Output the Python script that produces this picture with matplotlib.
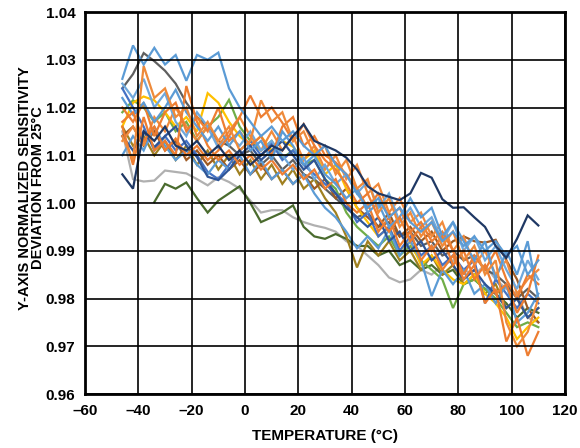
import numpy as np
import matplotlib
matplotlib.use("Agg")
import matplotlib.pyplot as plt

nan = np.nan
temps = [-46, -42, -38, -34, -30, -26, -22, -18, -14, -10, -6, -2, 2, 6, 10, 14, 18, 22, 26, 30,
         34, 38, 42, 46, 50, 54, 58, 62, 66, 70, 74, 78, 82, 86, 90, 94, 98, 102, 106, 110]

x_ticks = [-60, -40, -20, 0, 20, 40, 60, 80, 100, 120]
y_ticks = [0.96, 0.97, 0.98, 0.99, 1.00, 1.01, 1.02, 1.03, 1.04]
x_label = "TEMPERATURE (°C)"
y_label = "Y-AXIS NORMALIZED SENSITIVITY\nDEVIATION FROM 25°C"

gray_light = [1.015, 1.005, 1.0045, 1.0047, 1.0068, 1.0065, 1.0062, 1.005, 1.0037, 1.0054, 1.0044, 1.003, 1.0005, 0.998, 0.9985, 0.9985, 0.997, 0.996, 0.9953, 0.9948,
              0.994, 0.992, 0.991, 0.989, 0.987, 0.9844, 0.9834, 0.984, 0.986, 0.985, 0.987, 0.988, 0.986, 0.985, 0.987, 0.984, 0.982, 0.981, 0.976, 0.975]
olive_dark = [nan, nan, nan, 1.0002, 1.004, 1.003, 1.0043, 1.001, 0.998, 1.0005, 1.002, 1.0035, 1.000, 0.996, 0.997, 0.998, 0.9995, 0.995, 0.993, 0.9925,
              0.9935, 0.9925, 0.991, 0.991, 0.989, 0.990, 0.987, 0.988, 0.986, 0.987, 0.985, 0.986, 0.983, 0.984, 0.982, 0.981, 0.979, 0.976, 0.978, 0.977]
gray_dark = [1.024, 1.027, 1.0314, 1.0297, 1.0277, 1.025, 1.021, 1.018, 1.016, 1.013, 1.012, 1.010, 1.011, 1.008, 1.010, 1.007, 1.009, 1.006, 1.005, 1.003,
             1.001, 0.999, 0.997, 0.998, 0.995, 0.996, 0.993, 0.994, 0.991, 0.992, 0.989, 0.990, 0.988, 0.989, 0.986, 0.985, 0.983, 0.980, 0.982, 0.980]
blue_top = [1.026, 1.033, 1.029, 1.0325, 1.029, 1.031, 1.0256, 1.031, 1.030, 1.0315, 1.024, 1.020, 1.017, 1.014, 1.016, 1.013, 1.015, 1.012, 1.010, 1.012,
            1.008, 1.006, 1.002, 0.999, 1.001, 0.997, 0.999, 0.996, 0.994, 0.996, 0.992, 0.994, 0.991, 0.993, 0.990, 0.992, 0.989, 0.991, 0.985, 0.988]
orange_a = [1.014, 1.009, 1.0287, 1.022, 1.024, 1.018, 1.020, 1.014, 1.017, 1.013, 1.016, 1.011, 1.013, 1.0215, 1.017, 1.019, 1.013, 1.015, 1.010, 1.012,
            1.006, 1.009, 1.003, 1.005, 0.998, 1.001, 0.995, 0.998, 0.993, 0.996, 0.991, 0.994, 0.988, 0.991, 0.985, 0.988, 0.975, 0.970, 0.973, 0.980]
orange_b = [1.017, 1.019, 1.013, 1.016, 1.011, 1.0135, 1.010, 1.012, 1.009, 1.011, 1.014, 1.018, 1.0225, 1.018, 1.020, 1.0168, 1.013, 1.0165, 1.012, 1.009,
            1.007, 1.004, 1.000, 1.002, 0.997, 0.994, 0.997, 0.992, 0.995, 0.990, 0.993, 0.987, 0.990, 0.984, 0.987, 0.981, 0.983, 0.977, 0.981, 0.989]
orange_c = [1.016, 1.008, 1.018, 1.011, 1.013, 1.010, 1.0245, 1.017, 1.012, 1.009, 1.011, 1.008, 1.010, 1.007, 1.009, 1.006, 1.008, 1.005, 1.007, 1.003,
            1.005, 1.000, 0.998, 1.000, 0.994, 0.997, 0.991, 0.994, 0.988, 0.991, 0.986, 0.989, 0.984, 0.987, 0.979, 0.982, 0.971, 0.976, 0.968, 0.973]
orange_d = [1.020, 1.017, 1.021, 1.014, 1.019, 1.021, 1.015, 1.018, 1.015, 1.020, 1.013, 1.015, 1.012, 1.014, 1.010, 1.016, 1.018, 1.012, 1.014, 1.010,
            1.0085, 1.006, 1.003, 0.999, 1.002, 0.997, 0.999, 0.994, 0.996, 0.992, 0.994, 0.990, 0.985, 0.989, 0.986, 0.990, 0.984, 0.980, 0.985, 0.983]
orange_e = [1.013, 1.016, 1.012, 1.018, 1.015, 1.020, 1.016, 1.013, 1.016, 1.012, 1.015, 1.018, 1.014, 1.011, 1.015, 1.011, 1.014, 1.009, 1.012, 1.007,
            1.010, 1.005, 1.008, 1.002, 1.004, 0.998, 1.001, 0.996, 0.998, 0.993, 0.996, 0.990, 0.993, 0.987, 0.990, 0.985, 0.988, 0.981, 0.984, 0.986]
brown = [1.014, 1.016, 1.012, 1.015, 1.011, 1.013, 1.009, 1.011, 1.008, 1.010, 1.007, 1.009, 1.006, 1.008, 1.005, 1.007, 1.004, 1.006, 1.003, 1.005,
         1.001, 1.003, 0.999, 0.997, 0.995, 0.998, 0.993, 0.995, 0.992, 0.994, 0.990, 0.992, 0.993, 0.992, 0.9917, 0.9923, 0.988, 0.984, 0.978, 0.975]
goldenrod = [1.016, 1.012, 1.014, 1.010, 1.013, 1.009, 1.012, 1.008, 1.011, 1.007, 1.010, 1.006, 1.009, 1.005, 1.008, 1.004, 1.007, 1.003, 1.005, 1.001,
             0.998, 0.993, 0.9865, 0.992, 0.989, 0.992, 0.988, 0.990, 0.986, 0.989, 0.985, 0.987, 0.983, 0.985, 0.981, 0.983, 0.978, 0.980, 0.976, 0.978]
gold = [1.016, 1.021, 1.0223, 1.0215, 1.019, 1.016, 1.018, 1.015, 1.023, 1.021, 1.017, 1.014, 1.012, 1.014, 1.011, 1.013, 1.0118, 1.009, 1.011, 1.006,
        1.008, 1.003, 0.999, 0.996, 0.993, 0.995, 0.990, 0.992, 0.987, 0.989, 0.986, 0.984, 0.983, 0.985, 0.981, 0.979, 0.976, 0.9715, 0.974, 0.976]
green = [1.019, 1.0215, 1.020, 1.017, 1.019, 1.015, 1.017, 1.013, 1.016, 1.018, 1.0216, 1.016, 1.013, 1.011, 1.013, 1.0094, 1.011, 1.008, 1.009, 1.005,
         1.003, 0.998, 0.995, 0.993, 0.991, 0.993, 0.989, 0.991, 0.988, 0.986, 0.984, 0.978, 0.983, 0.984, 0.982, 0.980, 0.977, 0.974, 0.975, 0.974]
blue_mid = [1.024, 1.020, 1.016, 1.011, 1.014, 1.011, 1.013, 1.010, 1.0065, 1.005, 1.008, 1.011, 1.013, 1.010, 1.0125, 1.009, 1.011, 1.008, 1.006, 1.004,
            1.002, 1.000, 0.996, 0.998, 0.993, 0.995, 0.990, 0.993, 0.989, 0.991, 0.987, 0.989, 0.986, 0.988, 0.979, 0.984, 0.981, 0.978, 0.981, 0.979]
blue_b = [1.022, 1.0185, 1.021, 1.017, 1.020, 1.0237, 1.019, 1.016, 1.013, 1.016, 1.012, 1.015, 1.011, 1.013, 1.009, 1.015, 1.012, 1.008, 1.010, 1.006,
          1.004, 1.001, 1.003, 0.998, 1.000, 0.995, 0.997, 1.001, 0.997, 0.999, 0.993, 0.996, 0.992, 0.988, 0.992, 0.984, 0.990, 0.985, 0.992, 0.980]
blue_c = [1.010, 1.014, 1.011, 1.016, 1.012, 1.009, 1.011, 1.008, 1.006, 1.009, 1.007, 1.010, 1.006, 1.009, 1.005, 1.007, 1.004, 1.006, 1.002, 0.999,
          0.997, 0.994, 0.9905, 0.993, 0.9905, 0.9945, 0.989, 0.992, 0.988, 0.9805, 0.986, 0.983, 0.986, 0.981, 0.983, 0.979, 0.983, 0.975, 0.977, 0.981]
blue_d = [1.025, 1.022, 1.026, 1.020, 1.023, 1.017, 1.014, 1.019, 1.016, 1.0115, 1.014, 1.012, 1.015, 1.011, 1.013, 1.010, 1.007, 1.0095, 1.005, 1.008,
          1.004, 1.006, 1.002, 1.0045, 0.999, 1.002, 0.996, 0.999, 0.995, 0.997, 0.992, 0.996, 0.990, 0.993, 0.988, 0.991, 0.986, 0.982, 0.988, 0.984]
navy_b = [1.014, 1.011, 1.015, 1.0117, 1.014, 1.016, 1.012, 1.0096, 1.0055, 1.0048, 1.007, 1.010, 1.012, 1.009, 1.011, 1.013, 1.010, 1.007, 1.009, 1.005,
          1.002, 0.999, 0.997, 0.995, 0.997, 0.992, 0.994, 0.990, 0.992, 0.988, 0.990, 0.987, 0.984, 0.986, 0.983, 0.981, 0.978, 0.980, 0.976, 0.978]
navy_a = [1.006, 1.003, 1.015, 1.013, 1.016, 1.012, 1.011, 1.013, 1.010, 1.012, 1.009, 1.011, 1.008, 1.010, 1.012, 1.011, 1.014, 1.0165, 1.013, 1.012,
          1.011, 1.0095, 1.007, 1.0035, 1.002, 1.0013, 1.0006, 1.002, 1.0063, 1.0053, 1.0008, 0.999, 0.9991, 0.997, 0.995, 0.991, 0.9885, 0.9925, 0.9974, 0.9953]

series = [
    (gray_light, "#b0b0b0"),
    (olive_dark, "#4a6b2e"),
    (gray_dark, "#5f5f5f"),
    (goldenrod, "#a08020"),
    (brown, "#9e5a22"),
    (green, "#70ad47"),
    (gold, "#ffc000"),
    (blue_mid, "#4472c4"),
    (blue_c, "#5b9bd5"),
    (orange_e, "#f08a3c"),
    (blue_d, "#6fa8dc"),
    (orange_d, "#ed7d31"),
    (navy_b, "#2f5597"),
    (orange_c, "#ed7d31"),
    (blue_b, "#5b9bd5"),
    (orange_b, "#ed7d31"),
    (orange_a, "#ee8a3a"),
    (blue_top, "#5b9bd5"),
    (navy_a, "#1f3864"),
]

plt.rcParams['font.family'] = ['Liberation Sans', 'DejaVu Sans']
fig = plt.figure(figsize=(5.8, 4.48), dpi=100)
ax = fig.add_axes([85 / 580, 1 - 394 / 448, 480 / 580, 382 / 448])

for vals, col in series:
    ax.plot(temps, vals, color=col, lw=1.6, solid_joinstyle='miter')

ax.set_xlim(-60, 120)
ax.set_ylim(0.96, 1.04)
ax.set_xticks(x_ticks)
ax.set_yticks(y_ticks)
ax.set_xticklabels([f"{t:d}".replace("-", "\u2013") for t in x_ticks])
ax.set_yticklabels([f"{v:.2f}" for v in y_ticks])
ax.set_axisbelow(False)
ax.grid(True, color="black", lw=1.2)
ax.tick_params(length=0, pad=7, labelsize=11)
for lab in ax.get_xticklabels() + ax.get_yticklabels():
    lab.set_fontweight("bold")
for s in ax.spines.values():
    s.set_linewidth(2)
    s.set_color("black")

ax.set_xlabel(x_label, fontsize=11, fontweight="bold", labelpad=8)
ax.set_ylabel(y_label, fontsize=10.5, fontweight="bold", linespacing=0.95)
ax.yaxis.set_label_coords(-0.083, 0.54)

fig.savefig("out.png", dpi=100)
